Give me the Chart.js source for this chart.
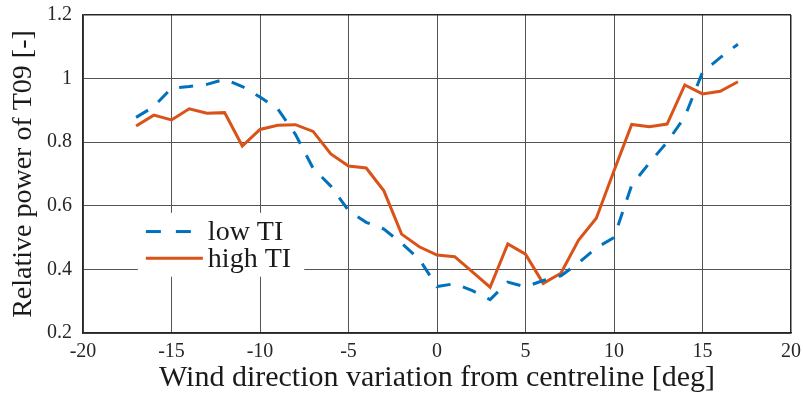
<!DOCTYPE html>
<html>
<head>
<meta charset="utf-8">
<style>
  html, body { margin: 0; padding: 0; background: #ffffff; }
  #wrap { width: 803px; height: 397px; }
</style>
<script src="https://cdn.jsdelivr.net/npm/chart.js@4/dist/chart.umd.min.js"></script>
</head>
<body>
<div id="wrap"><canvas id="c" width="803" height="397"></canvas></div>
<script>
// Wind direction offsets (deg) at which T09 power was evaluated
const directions = [-17, -16, -15, -14, -13, -12, -11, -10, -9, -8, -7, -6, -5, -4, -3, -2, -1,
  0, 1, 2, 3, 4, 5, 6, 7, 8, 9, 10, 11, 12, 13, 14, 15, 16, 17];

// Relative power of T09, low turbulence intensity
const lowTI = [0.878, 0.912, 0.970, 0.975, 0.982, 0.998, 0.975, 0.942, 0.905, 0.825, 0.718, 0.662,
  0.585, 0.548, 0.527, 0.482, 0.432, 0.346, 0.355, 0.333, 0.305, 0.360, 0.345, 0.365, 0.380,
  0.420, 0.468, 0.500, 0.665, 0.735, 0.800, 0.880, 1.020, 1.066, 1.108];

// Relative power of T09, high turbulence intensity
const highTI = [0.851, 0.885, 0.870, 0.905, 0.891, 0.893, 0.788, 0.840, 0.853, 0.855, 0.834, 0.763,
  0.725, 0.719, 0.647, 0.511, 0.471, 0.445, 0.440, 0.392, 0.344, 0.480, 0.448, 0.356, 0.388,
  0.492, 0.561, 0.710, 0.856, 0.849, 0.857, 0.980, 0.952, 0.960, 0.990];

const seriesNames = ['low TI', 'high TI'];
const xTitle = 'Wind direction variation from centreline [deg]';
const yTitle = 'Relative power of T09 [-]';

const FONT = "'Liberation Serif', 'Times New Roman', serif";
const GRID = '#545454';
const AXIS = '#262626';

const toPoints = vals => directions.map((d, i) => ({ x: d, y: vals[i] }));

// Legend drawn inside the axes on a white box, in the lower-left region
const insideLegend = {
  id: 'insideLegend',
  afterDatasetsDraw(chart) {
    const ctx = chart.ctx;
    const xs = chart.scales.x, ys = chart.scales.y;
    const bx = xs.getPixelForValue(-16.9), by = ys.getPixelForValue(0.578);
    const bw = xs.getPixelForValue(-7.5) - bx, bh = ys.getPixelForValue(0.377) - by;
    ctx.save();
    ctx.fillStyle = '#ffffff';
    ctx.fillRect(bx, by, bw, bh);
    const rows = [ys.getPixelForValue(0.519), ys.getPixelForValue(0.435)];
    chart.data.datasets.forEach((ds, i) => {
      const y = rows[i];
      ctx.beginPath();
      ctx.strokeStyle = ds.borderColor;
      ctx.lineWidth = ds.borderWidth;
      ctx.setLineDash(ds.borderDash ? [15, 15] : []);
      ctx.lineCap = 'butt';
      ctx.moveTo(bx + 8, y);
      ctx.lineTo(bx + 65, y);
      ctx.stroke();
      ctx.setLineDash([]);
      ctx.fillStyle = '#1a1a1a';
      ctx.font = '28px ' + FONT;
      ctx.textAlign = 'left';
      ctx.textBaseline = 'middle';
      ctx.fillText(ds.label, bx + 70, y + 1);
    });
    ctx.restore();
  }
};

// Keep the plot box fixed: no extra room reserved for overhanging end labels
const noLabelOverflow = s => {
  s.paddingLeft = 0; s.paddingRight = 0; s.paddingTop = 0; s.paddingBottom = 0;
};

new Chart(document.getElementById('c'), {
  type: 'line',
  data: {
    datasets: [
      {
        label: seriesNames[0],
        data: toPoints(lowTI),
        borderColor: '#0072BD',
        borderWidth: 3,
        borderDash: [14, 13],
        pointRadius: 0,
        tension: 0,
        fill: false
      },
      {
        label: seriesNames[1],
        data: toPoints(highTI),
        borderColor: '#D95319',
        borderWidth: 3,
        pointRadius: 0,
        tension: 0,
        fill: false
      }
    ]
  },
  options: {
    responsive: false,
    animation: false,
    devicePixelRatio: 1,
    layout: { padding: { top: 15, right: 12, left: 0, bottom: 0 } },
    plugins: {
      legend: { display: false },
      tooltip: { enabled: false }
    },
    scales: {
      x: {
        type: 'linear',
        min: -20,
        max: 20,
        afterFit(s) { s.height = 64; noLabelOverflow(s); },
        ticks: {
          stepSize: 5,
          padding: 7,
          color: '#262626',
          font: { family: FONT, size: 20 },
          maxRotation: 0
        },
        grid: {
          color: c => (c.tick && c.tick.value === 20) ? AXIS : GRID,
          lineWidth: c => (c.tick && c.tick.value === 20) ? 1.5 : 1,
          drawTicks: false
        },
        border: { display: true, color: AXIS, width: 1.5 },
        title: {
          display: true,
          text: xTitle,
          color: '#1a1a1a',
          font: { family: FONT, size: 30, lineHeight: 1.2 },
          padding: { top: 0, bottom: 1 }
        }
      },
      y: {
        type: 'linear',
        min: 0.2,
        max: 1.2,
        afterFit(s) { s.width = 83; noLabelOverflow(s); },
        ticks: {
          stepSize: 0.2,
          padding: 11,
          color: '#262626',
          font: { family: FONT, size: 20 },
          callback: v => String(Number(v.toFixed(2)))
        },
        grid: {
          color: c => (c.tick && Math.abs(c.tick.value - 1.2) < 1e-9) ? AXIS : GRID,
          lineWidth: c => (c.tick && Math.abs(c.tick.value - 1.2) < 1e-9) ? 1.5 : 1,
          drawTicks: false
        },
        border: { display: true, color: AXIS, width: 1.5 },
        title: {
          display: true,
          text: yTitle,
          color: '#1a1a1a',
          font: { family: FONT, size: 28, lineHeight: 1.2 },
          padding: { top: 7, bottom: 0 }
        }
      }
    }
  },
  plugins: [insideLegend]
});
</script>
</body>
</html>
